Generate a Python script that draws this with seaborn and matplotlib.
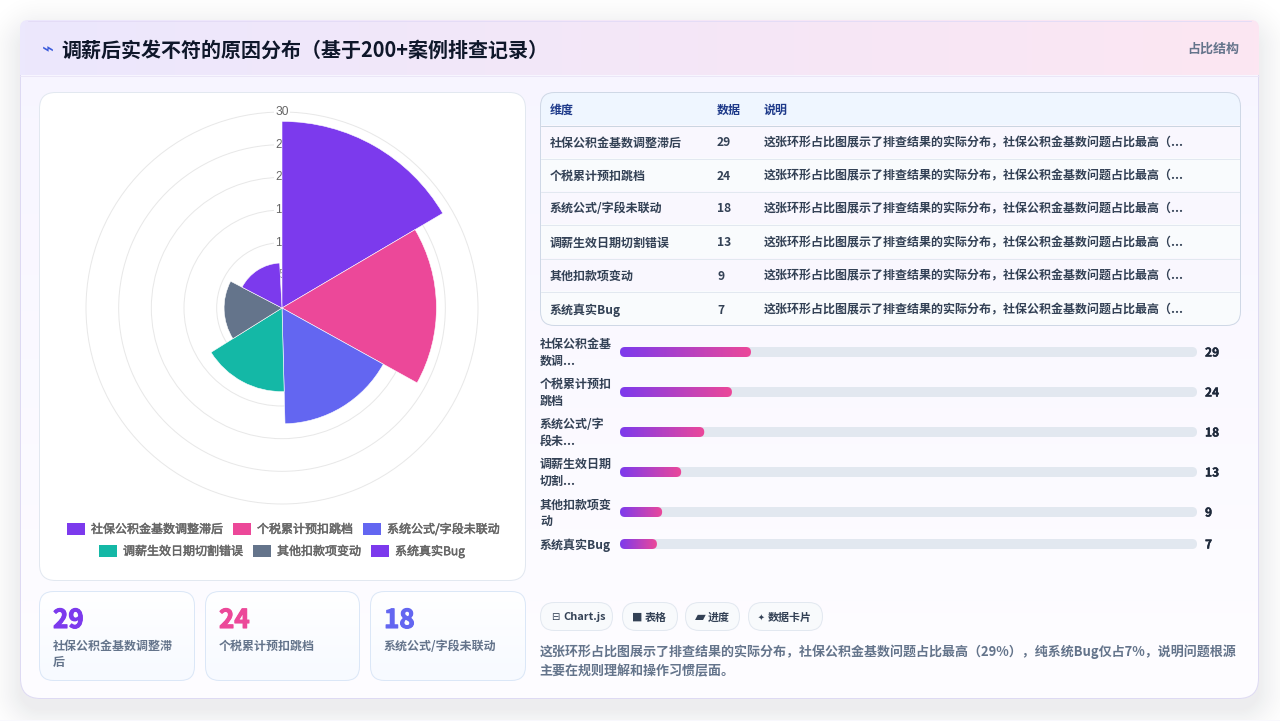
import numpy as np
import seaborn as sns
import matplotlib
matplotlib.use('Agg')
import matplotlib.pyplot as plt
import matplotlib.patheffects as pe
from matplotlib.patches import FancyBboxPatch, Rectangle
from matplotlib.colors import LinearSegmentedColormap

# data
categories = ['社保公积金基数调整滞后', '个税累计预扣跳档', '系统公式/字段未联动',
              '调薪生效日期切割错误', '其他扣款项变动', '系统真实Bug']
values = [29, 24, 18, 13, 9, 7]
colors = ['#7c3aed', '#ec4899', '#6366f1', '#14b8a6', '#64748b', '#7c3aed']
ring_ticks = [5, 10, 15, 20, 25, 30]
bar_labels = ['社保公积金基\n数调...', '个税累计预扣\n跳档', '系统公式/字\n段未...',
              '调薪生效日期\n切割...', '其他扣款项变\n动', '系统真实Bug']
fill_pct = [22.7, 19.4, 14.6, 10.6, 7.3, 6.4]
track_pct = [100, 100, 100, 100, 100, 100]
table_head = ['维度', '数据', '说明']
table_note = '这张环形占比图展示了排查结果的实际分布，社保公积金基数问题占比最高（...'
pill_icons = ['⊟', '■', '▰', '✦']
pill_names = ['Chart.js', '表格', '进度', '数据卡片']
stat_labels = ['社保公积金基数调整滞\n后', '个税累计预扣跳档', '系统公式/字段未联动']
title = '调薪后实发不符的原因分布（基于200+案例排查记录）'
badge = '占比结构'
desc = ['这张环形占比图展示了排查结果的实际分布，社保公积金基数问题占比最高（29%），纯系统Bug仅占7%，说明问题根源',
        '主要在规则理解和操作习惯层面。']

# layout, in pixels of the 1280x721 picture
W, H = 1280, 721
CX, CY = 282, 308
UNIT = 196 / 30          # pixels per polar unit
SWEEP = 59.5             # the reference was caught just before its animation ended
GROW = 0.985
ROW_Y = [352, 392, 432, 472, 512, 544]
TABLE_Y = [143, 176, 209, 243, 276, 310]
TABLE_EDGES = [125, 158, 191, 224, 258, 291, 325]
THIN = 0.72              # one pixel line

sns.set_theme(style='white')
plt.rcParams['font.family'] = ['Noto Sans CJK SC', 'DejaVu Sans']
plt.rcParams['axes.unicode_minus'] = False


def px(size):
    return size * 0.72


def box(ax, x0, y0, x1, y1, r, fc, ec='none', lw=THIN, z=1, alpha=None):
    p = FancyBboxPatch((x0, y0), x1 - x0, y1 - y0, boxstyle='round,pad=0,rounding_size=%s' % r,
                       fc=fc, ec=ec, lw=lw, zorder=z, alpha=alpha)
    ax.add_patch(p)
    return p


def grad(ax, x0, y0, x1, y1, c1, c2, clip, vertical=False, z=1):
    cm = LinearSegmentedColormap.from_list('g', [c1, c2])
    ramp = np.linspace(0, 1, 256)
    ramp = ramp.reshape(-1, 1) if vertical else ramp.reshape(1, -1)
    im = ax.imshow(ramp, cmap=cm, extent=(x0, x1, y1, y0), aspect='auto', zorder=z)
    im.set_clip_path(clip)
    return im


def shadow(ax, x0, y0, x1, y1, r, spread, peak, z=0.5):
    # blurred rounded box, from its distance field
    xx, yy = np.meshgrid(np.arange(W) + 0.5, np.arange(H) + 0.5)
    qx = np.abs(xx - (x0 + x1) / 2) - (x1 - x0) / 2 + r
    qy = np.abs(yy - (y0 + y1) / 2) - (y1 - y0) / 2 + r
    d = np.hypot(np.maximum(qx, 0), np.maximum(qy, 0)) + np.minimum(np.maximum(qx, qy), 0) - r
    rgba = np.zeros((H, W, 4))
    rgba[..., :3] = (15 / 255, 23 / 255, 42 / 255)
    rgba[..., 3] = peak * np.clip(1 - d / spread, 0, 1) ** 2
    ax.imshow(rgba, extent=(0, W, H, 0), aspect='auto', zorder=z)


fig = plt.figure(figsize=(W / 100, H / 100), dpi=100, facecolor='white')

# page, in pixel coordinates
bg = fig.add_axes([0, 0, 1, 1], zorder=0)
bg.set_xlim(0, W)
bg.set_ylim(H, 0)
bg.axis('off')

shadow(bg, 20, 30, 1259, 710, 20, 44, 0.075)

card = box(bg, 20.5, 20.5, 1258.5, 698.5, 20, 'white', 'none', z=1)
grad(bg, 20, 20, 1259, 699, '#f7f5ff', '#fefdff', card, vertical=True, z=1.1)
box(bg, 20.5, 20.5, 1258.5, 698.5, 20, 'none', '#dedaf3', THIN, z=1.2)
head_clip = box(bg, 20, 20, 1259, 110, 8, 'none', z=1.25)
grad(bg, 20, 20, 1259, 75, '#ece8fd', '#fce6f2', head_clip, z=1.3)
bg.plot([20, 1259], [75.5, 75.5], color='#ebe6f7', lw=THIN, zorder=1.4)
bg.plot([28, 1251], [20.5, 20.5], color='#e4dcf6', lw=THIN, zorder=1.4)
bg.add_patch(Rectangle((0, 720), W, 1, fc='#f8f8fd', ec='none', zorder=1.6))

bg.text(48, 50, '⌁', fontsize=px(20), color='#3b5bdb', ha='center', va='center', zorder=3,
        family=['DejaVu Sans'])
bg.text(61.5, 50, title, fontsize=px(20), fontweight='bold', color='#0f172a', va='center', zorder=3)
bg.text(1239, 49, badge, fontsize=px(13), fontweight='bold', color='#64748b', ha='right', va='center', zorder=3)

# left panel
box(bg, 39.5, 92.5, 525.5, 580.5, 16, 'white', '#e2e8f0', THIN, z=2)

# legend, two centred rows as in the reference
legend_pos = [(67, 530), (233, 530), (363, 530), (99, 552), (253, 552), (371, 552)]
heavier = [pe.withStroke(linewidth=0.35, foreground='#666666')]
for (lx, ly), name, c in zip(legend_pos, categories, colors):
    bg.add_patch(Rectangle((lx, ly - 7), 18, 12, fc=c, ec='none', zorder=3))
    bg.text(lx + 24, ly - 0.5, name, fontsize=px(12), color='#666666', va='center', zorder=3, path_effects=heavier)

# stat cards
stat_x = [(39.5, 194.5), (205.5, 359.5), (370.5, 525.5)]
for k, (x0, x1) in enumerate(stat_x):
    c = box(bg, x0, 591.5, x1, 680.5, 14, 'white', 'none', z=2)
    grad(bg, x0, 591, x1, 681, '#ffffff', '#f7faff', c, vertical=True, z=2.1)
    box(bg, x0, 591.5, x1, 680.5, 14, 'none', '#dbe7f7', THIN, z=2.2)
    bg.text(x0 + 13.5, 620.5, str(values[k]), fontsize=px(26), fontweight='bold', color=colors[k], va='center',
            zorder=3, path_effects=[pe.withStroke(linewidth=0.8, foreground=colors[k])])
    for j, line in enumerate(stat_labels[k].split('\n')):
        bg.text(x0 + 13.5, 646 + 16 * j, line, fontsize=px(12), fontweight='bold', color='#64748b', va='center', zorder=3)

# table
tbl = box(bg, 540.5, 92.5, 1240.5, 325.5, 14, 'white', 'none', z=2)
head = Rectangle((540, 92), 701, 33, fc='#eff6ff', ec='none', zorder=2.1)
bg.add_patch(head)
head.set_clip_path(tbl)
for i in range(6):
    row = Rectangle((540, TABLE_EDGES[i]), 701, TABLE_EDGES[i + 1] - TABLE_EDGES[i],
                    fc='#f9f7fe' if i % 2 == 0 else '#f9fbfd', ec='none', zorder=2.1)
    bg.add_patch(row)
    row.set_clip_path(tbl)
    if i < 5:
        bg.plot([541, 1240], [TABLE_EDGES[i + 1] + 0.5] * 2, color='#e2e8f0', lw=THIN, zorder=2.2)
    bg.text(550, TABLE_Y[i], categories[i], fontsize=px(12), fontweight='bold', color='#334155', va='center', zorder=3)
    bg.text(717, TABLE_Y[i], str(values[i]), fontsize=px(12), fontweight='bold', color='#334155', va='center', zorder=3)
    bg.text(764, TABLE_Y[i], table_note, fontsize=px(12), fontweight='bold', color='#334155', va='center', zorder=3)
bg.plot([541, 1240], [125.5, 125.5], color='#cbd5e1', lw=THIN, zorder=2.2)
box(bg, 540.5, 92.5, 1240.5, 325.5, 14, 'none', '#cfd8e6', THIN, z=2.3)
for tx, name in zip([550, 717, 764], table_head):
    bg.text(tx, 110.5, name, fontsize=px(12), fontweight='bold', color='#1e3a8a', va='center', zorder=3)

# bar labels and values
for y, label, v in zip(ROW_Y, bar_labels, values):
    lines = label.split('\n')
    for j, line in enumerate(lines):
        off = 1 if len(lines) == 1 else (j - 0.5) * 16.5 + 1
        bg.text(540, y + off, line, fontsize=px(12), fontweight='bold', color='#334155', va='center', zorder=3)
    bg.text(1205, y + 1, str(v), fontsize=px(12), fontweight='bold', color='#1e293b', va='center', zorder=3,
            path_effects=[pe.withStroke(linewidth=0.3, foreground='#1e293b')])

# pills
pill_box = [(540.5, 612.5), (622.5, 677.5), (685.5, 739.5), (748.5, 822.5)]
icon_x = [555, 637, 700.5, 761]
icon_size = [10, 11, 14, 8]
name_x = [563, 645, 708, 768]
for (x0, x1), ix, sz, nx, ic, nm in zip(pill_box, icon_x, icon_size, name_x, pill_icons, pill_names):
    box(bg, x0, 602.5, x1, 630.5, 14, '#f8fafc', '#e2e8f0', THIN, z=2)
    bg.text(ix, 617, ic, fontsize=px(sz), color='#334155', ha='center', va='center', zorder=3, family=['DejaVu Sans'])
    bg.text(nx, 617.5, nm, fontsize=px(11), fontweight='bold', color='#334155', va='center', zorder=3)

for y, line in zip([651.5, 671.5], desc):
    bg.text(539.5, y, line, fontsize=px(13), fontweight='bold', color='#64748b', va='center', zorder=3)

# polar area chart
R = UNIT * 31
ax = fig.add_axes([(CX - R) / W, 1 - (CY + R) / H, 2 * R / W, 2 * R / H], projection='polar', zorder=3)
ax.patch.set_alpha(0)
ax.set_theta_zero_location('N')
ax.set_theta_direction(-1)
theta = np.deg2rad([SWEEP * (i + 0.5) for i in range(len(values))])
sns.barplot(x=theta, y=values, hue=categories, hue_order=categories, palette=colors, native_scale=True,
            width=1, dodge=False, legend=False, saturation=1, edgecolor='white', linewidth=0.4, ax=ax)
for p in ax.patches:
    p.set_height(p.get_height() * GROW)
    p.set_zorder(1)
ax.set_xlim(0, 2 * np.pi)
ax.set_ylim(0, 31)
ax.set_xlabel('')
ax.set_ylabel('')
ax.set_xticks([])
ax.set_yticks(ring_ticks)
ax.set_yticklabels([])
ax.set_axisbelow(True)
ax.xaxis.grid(False)
ax.yaxis.grid(True, color='#e8e8e8', lw=THIN)
ax.spines['polar'].set_visible(False)
for t in ring_ticks:
    ax.text(0, t, str(t), fontsize=px(12), color='#666666', ha='center', va='center', zorder=0.9,
            family=['Liberation Sans'], bbox=dict(fc='white', ec='none', pad=1))

# progress bars
ax2 = fig.add_axes([620 / W, 1 - 560 / H, 577 / W, 230 / H], zorder=3)
ax2.patch.set_alpha(0)
bar_width = 10 / (min(np.diff(ROW_Y)))
sns.barplot(x=track_pct, y=ROW_Y, orient='y', native_scale=True, width=bar_width, color='#e2e8f0', ax=ax2)
sns.barplot(x=fill_pct, y=ROW_Y, orient='y', native_scale=True, width=bar_width, color='#7c3aed', ax=ax2)
ax2.set_xlim(0, 100)
ax2.set_ylim(560, 330)
ax2.axis('off')
xr = 5 * 100 / 577       # 5px radius in x units
rects = list(ax2.patches)
for n, rect in enumerate(rects):
    x0, y0, w, h = rect.get_x(), rect.get_y(), rect.get_width(), rect.get_height()
    rect.set_visible(False)
    is_track = n < len(track_pct)
    rb = FancyBboxPatch((x0, y0), w, h, boxstyle='round,pad=0,rounding_size=%s' % xr, mutation_aspect=5 / xr,
                        fc='#e2e8f0' if is_track else 'none', ec='none', zorder=2)
    ax2.add_patch(rb)
    if not is_track:
        grad(ax2, x0, y0, x0 + w, y0 + h, '#7c3aed', '#ec4899', rb, z=3)
ax2.set_xlim(0, 100)
ax2.set_ylim(560, 330)

fig.savefig('out.png', dpi=100)
